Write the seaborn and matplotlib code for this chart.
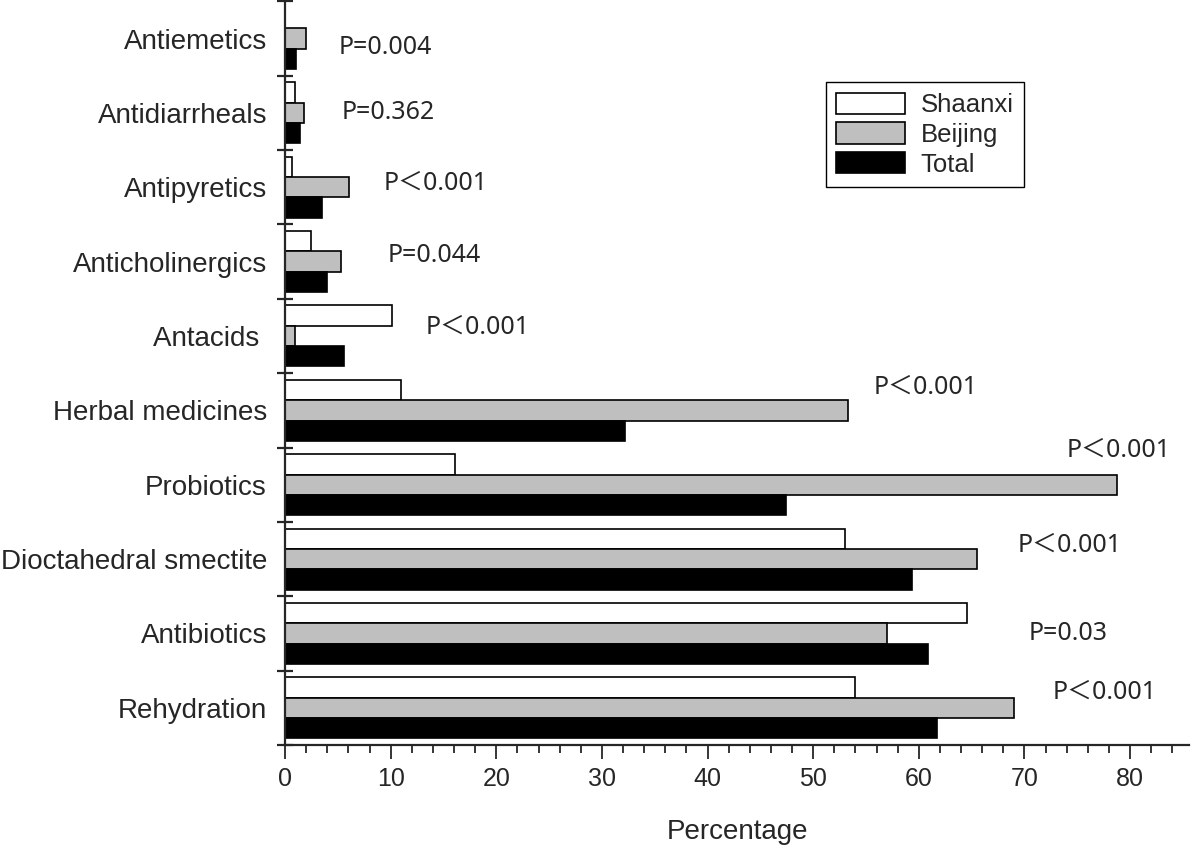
import pandas as pd
import matplotlib.pyplot as plt
import seaborn as sns
from matplotlib.ticker import MultipleLocator, FixedLocator

# values (percent)
categories = ['Antiemetics', 'Antidiarrheals', 'Antipyretics', 'Anticholinergics', 'Antacids ',
              'Herbal medicines', 'Probiotics', 'Dioctahedral smectite', 'Antibiotics', 'Rehydration']
shaanxi = [0.0, 0.9, 0.7, 2.5, 10.1, 11.0, 16.1, 53.0, 64.6, 54.0]
beijing = [2.0, 1.8, 6.1, 5.3, 0.95, 53.3, 78.8, 65.5, 57.0, 69.0]
total = [1.0, 1.4, 3.5, 4.0, 5.55, 32.2, 47.4, 59.4, 60.9, 61.7]
p_labels = ['P=0.004', 'P=0.362', 'P\uff1c0.001', 'P=0.044', 'P\uff1c0.001',
            'P\uff1c0.001', 'P\uff1c0.001', 'P\uff1c0.001', 'P=0.03', 'P\uff1c0.001']

# where the p-value labels sit (x in data units, y offset in category units)
p_x = [5.1, 5.4, 9.3, 9.75, 13.3, 55.7, 74.0, 69.4, 70.4, 72.7]
p_dy = [0.12, 0.0, -0.05, -0.08, -0.12, -0.31, -0.47, -0.19, 0.0, -0.21]

df = pd.DataFrame({'category': categories, 'Shaanxi': shaanxi, 'Beijing': beijing, 'Total': total})
df = df.melt(id_vars='category', var_name='region', value_name='value')

sns.set_style('ticks')
plt.rcParams['font.family'] = ['Liberation Sans', 'DejaVu Sans']

fig = plt.figure(figsize=(12, 8.46), dpi=100)
ax = fig.add_axes([0.2375, 0.1194, 0.7535, 0.879])

sns.barplot(data=df, x='value', y='category', hue='region', orient='h',
            palette=['white', '#bfbfbf', 'black'], edgecolor='black', linewidth=1.2,
            width=0.82, saturation=1, ax=ax)

ax.set_xlim(0, 85.6)
ax.set_ylim(9.5, -0.5)

for s in ['top', 'right']:
    ax.spines[s].set_visible(False)
for s in ['left', 'bottom']:
    ax.spines[s].set_linewidth(1.6)

ax.xaxis.set_major_locator(MultipleLocator(10))
ax.xaxis.set_minor_locator(MultipleLocator(2))
ax.tick_params(axis='x', which='major', length=10, width=1.3, labelsize=18, pad=6)
ax.tick_params(axis='x', which='minor', length=6, width=1.3)

ax.yaxis.set_minor_locator(FixedLocator([i - 0.5 for i in range(len(categories) + 1)]))
ax.tick_params(axis='y', which='major', length=0, labelsize=20, pad=13)
ax.tick_params(axis='y', which='minor', length=12, width=1.6, direction='inout')

ax.set_xlabel('Percentage', fontsize=20, labelpad=20)
ax.set_ylabel('')

for i, lab in enumerate(p_labels):
    ax.text(p_x[i], i + p_dy[i], lab, fontsize=18, va='center', ha='left',
            family=['Noto Sans', 'Noto Sans CJK SC'])

handles, labels = ax.get_legend_handles_labels()
leg = ax.legend(handles, labels, loc='upper left', bbox_to_anchor=(0.598, 0.891),
                borderaxespad=0, fontsize=18.5, fancybox=False, framealpha=1,
                edgecolor='black', handlelength=2.7, handleheight=0.9,
                handletextpad=0.6, labelspacing=0.2, borderpad=0.4)
leg.get_frame().set_linewidth(1.0)

fig.savefig('out.png', dpi=100)
